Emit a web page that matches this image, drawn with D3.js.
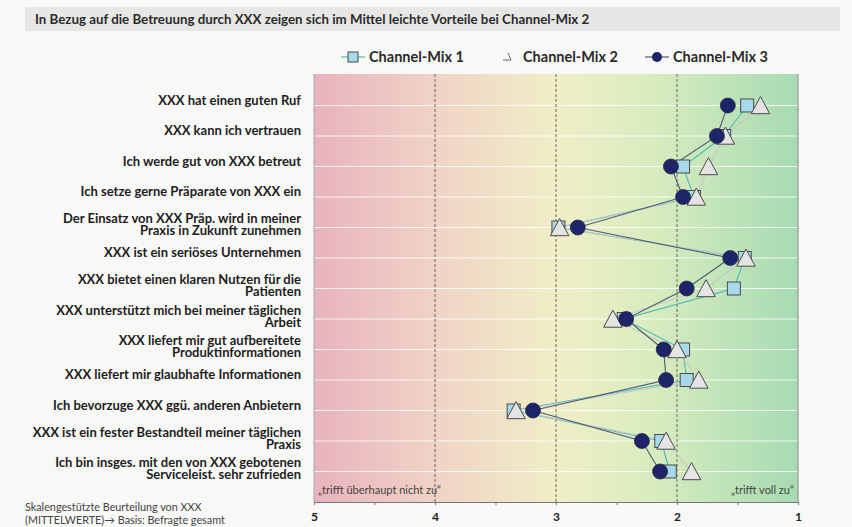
<html>
<head>
<meta charset="utf-8">
<script src="https://cdn.jsdelivr.net/npm/d3@7"></script>
<style>
  body { margin: 0; background: #f8f8f7; }
  text { font-family: Lato, "Open Sans", sans-serif; }
</style>
</head>
<body>
<svg id="chart" width="852" height="527"></svg>
<script>
    // categories (two-line labels split with |)
    const categories = [
        "XXX hat einen guten Ruf",
        "XXX kann ich vertrauen",
        "Ich werde gut von XXX betreut",
        "Ich setze gerne Präparate von XXX ein",
        "Der Einsatz von XXX Präp. wird in meiner|Praxis in Zukunft zunehmen",
        "XXX ist ein seriöses Unternehmen",
        "XXX bietet einen klaren Nutzen für die|Patienten",
        "XXX unterstützt mich bei meiner täglichen|Arbeit",
        "XXX liefert mir gut aufbereitete|Produktinformationen",
        "XXX liefert mir glaubhafte Informationen",
        "Ich bevorzuge XXX ggü. anderen Anbietern",
        "XXX ist ein fester Bestandteil meiner täglichen|Praxis",
        "Ich bin insges. mit den von XXX gebotenen|Serviceleist. sehr zufrieden"
    ]

    const mix1 = [1.42, 1.61, 1.95, 1.86, 2.98, 1.44, 1.53, 2.44, 1.95, 1.92, 3.35, 2.13, 2.06]
    const mix2 = [1.31, 1.60, 1.74, 1.84, 2.97, 1.43, 1.76, 2.53, 2.00, 1.82, 3.33, 2.09, 1.88]
    const mix3 = [1.58, 1.67, 2.05, 1.95, 2.82, 1.56, 1.92, 2.42, 2.11, 2.09, 3.19, 2.29, 2.14]

    const seriesNames = ["Channel-Mix 1", "Channel-Mix 2", "Channel-Mix 3"]
    const scaleTicks = [5, 4, 3, 2, 1]

    const title = "In Bezug auf die Betreuung durch XXX zeigen sich im Mittel leichte Vorteile bei Channel-Mix 2"
    const noteLines = ["Skalengestützte Beurteilung von XXX", "(MITTELWERTE)\u2192 Basis: Befragte gesamt"]

    const svg = d3.select('#chart')

    const x = d3.scaleLinear().domain([5, 1]).range([314, 798])
    const y = d3.scalePoint().domain(categories).range([75, 502]).padding(1)

    // title bar
    svg.append('rect').attr('x', 25).attr('y', 7).attr('width', 815).attr('height', 24).attr('fill', '#e7e7e6')
    svg.append('text').attr('x', 35).attr('y', 23.5).attr('font-size', 13.3).attr('font-weight', 'bold')
        .attr('fill', '#2b2b2b').text(title)

    // background gradient
    const defs = svg.append('defs')
    const grad = defs.append('linearGradient').attr('id', 'bgGrad')
    const stops = [[0, '#e8b3bd'], [0.25, '#f0d3c6'], [0.5, '#f0eec7'], [0.7, '#d8ecbf'], [1, '#a7dbb3']]
    grad.selectAll('stop').data(stops).enter().append('stop')
        .attr('offset', d => d[0]).attr('stop-color', d => d[1])

    svg.append('rect').attr('x', x(5)).attr('y', 74).attr('width', x(1) - x(5)).attr('height', 428)
        .attr('fill', 'url(#bgGrad)')

    // white horizontal row lines
    svg.selectAll('.hline').data(categories).enter().append('line')
        .attr('x1', x(5)).attr('x2', x(1))
        .attr('y1', d => y(d)).attr('y2', d => y(d))
        .attr('stroke', '#ffffff').attr('stroke-opacity', 0.8).attr('stroke-width', 1)

    // dashed vertical lines
    svg.selectAll('.vline').data([4, 3, 2]).enter().append('line')
        .attr('x1', d => x(d)).attr('x2', d => x(d)).attr('y1', 74).attr('y2', 502)
        .attr('stroke', '#4a4a4a').attr('stroke-width', 0.8).attr('stroke-dasharray', '3,2')

    // borders
    svg.append('line').attr('x1', x(5)).attr('x2', x(5)).attr('y1', 74).attr('y2', 502).attr('stroke', '#aaa')
    svg.append('line').attr('x1', x(1)).attr('x2', x(1)).attr('y1', 74).attr('y2', 502).attr('stroke', '#888')

    // corner labels
    svg.append('text').attr('x', x(5) + 4).attr('y', 494).attr('font-size', 11).attr('fill', '#444')
        .text('\u201Etrifft überhaupt nicht zu\u201C')
    svg.append('text').attr('x', x(1) - 4).attr('y', 494).attr('font-size', 11).attr('fill', '#444')
        .attr('text-anchor', 'end').text('\u201Etrifft voll zu\u201C')

    // axis
    const axis = d3.axisBottom(x).tickValues(d3.range(5, 0.9, -0.5)).tickSize(3).tickFormat(d => Number.isInteger(d) ? d : '')
    const axG = svg.append('g').attr('transform', 'translate(0,502)').call(axis)
    axG.select('.domain').attr('stroke', '#777')
    axG.selectAll('.tick line').attr('stroke', '#777')
    axG.selectAll('.tick text').attr('font-size', 12).attr('font-weight', 'bold').attr('fill', '#222')
        .attr('font-family', 'Liberation Sans, Arial, sans-serif').attr('dy', '1.1em')

    // category labels
    const labelG = svg.selectAll('.cat').data(categories).enter().append('text')
        .attr('text-anchor', 'end').attr('font-size', 13).attr('font-weight', 'bold').attr('fill', '#1e1e1e')
        .attr('transform', d => `translate(301, ${y(d)})`)
    labelG.each(function (d) {
        const parts = d.split('|')
        const t = d3.select(this)
        parts.forEach((p, i) => {
            t.append('tspan').attr('x', 0)
                .attr('y', parts.length === 1 ? -4 : (i === 0 ? -7.5 : 4.5))
                .attr('dominant-baseline', 'middle')
                .text(p)
        })
    })

    // series lines
    const seriesData = [mix1, mix2, mix3]
    const lineColors = ['#4dbab4', '#c8c8c8', '#4e5a72']
    const line = d3.line().x(d => x(d.v)).y(d => y(d.c))
    seriesData.forEach((vals, si) => {
        const pts = vals.map((v, i) => ({ v: v, c: categories[i] }))
        svg.append('path').attr('d', line(pts)).attr('fill', 'none')
            .attr('stroke', lineColors[si]).attr('stroke-width', 1.1)
    })

    const triPath = s => `M0,${-s * 0.62}L${s * 0.58},${s * 0.45}L${-s * 0.58},${s * 0.45}Z`

    // markers
    svg.selectAll('.sq').data(mix1).enter().append('rect')
        .attr('x', d => x(d) - 6.5).attr('y', (d, i) => y(categories[i]) - 6.5)
        .attr('width', 13).attr('height', 13)
        .attr('fill', '#a6d9ea').attr('stroke', '#4a4a4a').attr('stroke-width', 1)

    svg.selectAll('.tri').data(mix2).enter().append('path')
        .attr('d', triPath(16))
        .attr('transform', (d, i) => `translate(${x(d)}, ${y(categories[i]) + 1})`)
        .attr('fill', '#e4e4e4').attr('stroke', '#4a4a4a').attr('stroke-width', 1)

    svg.selectAll('.circ').data(mix3).enter().append('circle')
        .attr('cx', d => x(d)).attr('cy', (d, i) => y(categories[i])).attr('r', 7.5)
        .attr('fill', '#1d2468').attr('stroke', '#2a2a40').attr('stroke-width', 0.8)

    // legend
    const legX = [353, 507, 657]
    const legY = 57
    seriesNames.forEach((name, i) => {
        const g = svg.append('g').attr('transform', `translate(${legX[i]}, ${legY})`)
        if (i === 0) {
            g.append('line').attr('x1', -12).attr('x2', 12).attr('stroke', '#4dbab4').attr('stroke-width', 1.2)
            g.append('rect').attr('x', -5).attr('y', -5).attr('width', 10).attr('height', 10)
                .attr('fill', '#a6d9ea').attr('stroke', '#4a4a4a')
        } else if (i === 1) {
            g.append('path').attr('d', 'M-4,3L4,3L1,-4').attr('fill', 'none').attr('stroke', '#444').attr('stroke-width', 0.8)
        } else {
            g.append('line').attr('x1', -12).attr('x2', 12).attr('stroke', '#4e5a72').attr('stroke-width', 1.2)
            g.append('circle').attr('r', 5).attr('fill', '#1d2468')
        }
        g.append('text').attr('x', 16).attr('y', 5).attr('font-size', 14.5).attr('font-weight', 'bold')
            .attr('font-family', 'Liberation Sans, Arial, sans-serif').attr('fill', '#2a2a2a').text(name)
    })

    // note bottom left
    svg.selectAll('.note').data(noteLines).enter().append('text')
        .attr('x', 25).attr('y', (d, i) => 511 + i * 13)
        .attr('font-size', 10.8).attr('fill', '#444').text(d => d)
</script>
</body>
</html>
